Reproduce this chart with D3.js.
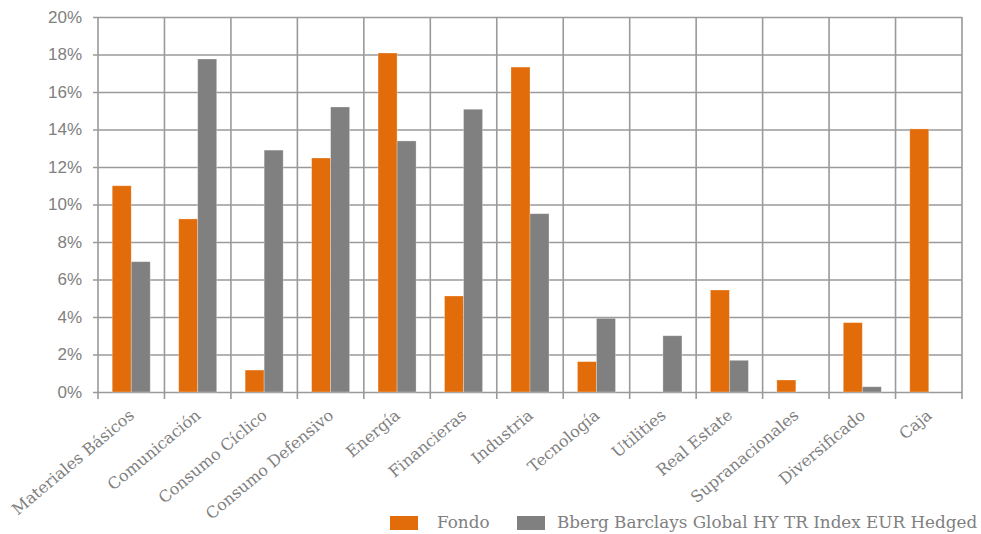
<!DOCTYPE html>
<html>
<head>
<meta charset="utf-8">
<script src="https://cdn.jsdelivr.net/npm/d3@7"></script>
<style>
  html, body { margin: 0; padding: 0; background: #fff; overflow: hidden; }
  svg { display: block; font-family: Georgia, "DejaVu Serif", serif; }
</style>
</head>
<body>
<svg id="chart" width="981" height="534"></svg>
<script>
// categories and series (percent)
const categories = ["Materiales Básicos", "Comunicación", "Consumo Cíclico", "Consumo Defensivo",
  "Energía", "Financieras", "Industria", "Tecnología", "Utilities", "Real Estate",
  "Supranacionales", "Diversificado", "Caja"];
const fondo = [11.0, 9.23, 1.17, 12.48, 18.08, 5.12, 17.33, 1.62, 0, 5.44, 0.64, 3.7, 14.03];
const indice = [6.95, 17.76, 12.9, 15.2, 13.39, 15.08, 9.51, 3.93, 3.0, 1.69, 0, 0.28, 0];
const seriesNames = ["Fondo", "Bberg Barclays Global HY TR Index EUR Hedged"];
const seriesColors = ["#E36C0A", "#808080"];
const yTicks = [0, 2, 4, 6, 8, 10, 12, 14, 16, 18, 20];

const svg = d3.select("#chart");
const margin = { left: 98, right: 19, top: 17, bottom: 142 };
const width = 981 - margin.left - margin.right;
const height = 534 - margin.top - margin.bottom;
const textColor = "#808080";
const gridColor = "#9a9a9a";

const g = svg.append("g").attr("transform", `translate(${margin.left},${margin.top})`);

const x0 = d3.scaleBand().domain(categories).range([0, width]).padding(0);
const groupW = x0.bandwidth() * 0.572;
const x1 = d3.scaleBand().domain([0, 1]).range([0, groupW]).padding(0);
const y = d3.scaleLinear().domain([0, 20]).range([height, 0]);

// horizontal gridlines + left axis
const yAxis = d3.axisLeft(y).tickValues(yTicks).tickSize(-width).tickSizeOuter(0)
  .tickPadding(16).tickFormat(d => d + "%");
const gy = g.append("g").call(yAxis);
gy.select(".domain").remove();
gy.selectAll(".tick line").attr("stroke", gridColor).attr("stroke-width", 1.6).attr("x1", -5);
gy.selectAll(".tick text").attr("fill", textColor).attr("font-size", 17);

// vertical gridlines at category boundaries
const bounds = categories.map(c => x0(c)).concat([width]);
g.append("g").selectAll("line").data(bounds).join("line")
  .attr("x1", d => d).attr("x2", d => d)
  .attr("y1", 0).attr("y2", height + 7)
  .attr("stroke", gridColor).attr("stroke-width", 1.6);

// bars
const rows = categories.map((c, i) => ({ cat: c, vals: [fondo[i], indice[i]] }));
const grp = g.append("g").selectAll("g").data(rows).join("g")
  .attr("transform", d => `translate(${x0(d.cat) + (x0.bandwidth() - groupW) / 2},0)`);
grp.selectAll("rect").data(d => d.vals.map((v, k) => ({ v, k })).filter(e => e.v > 0)).join("rect")
  .attr("x", d => x1(d.k))
  .attr("width", x1.bandwidth())
  .attr("y", d => y(d.v))
  .attr("height", d => y(0) - y(d.v))
  .attr("fill", d => seriesColors[d.k])
  .attr("stroke", "#ffffff").attr("stroke-opacity", 0.35).attr("stroke-width", 0.8);

// x labels, rotated
g.append("g").selectAll("text").data(categories).join("text")
  .attr("transform", d => `translate(${x0(d) + x0.bandwidth() / 2 + 4},${height + 25}) rotate(-40)`)
  .attr("text-anchor", "end")
  .attr("fill", textColor)
  .attr("font-size", 16)
  .text(d => d);

// legend
const legend = svg.append("g").attr("transform", "translate(390,516)");
const legendX = [0, 127];
const legendTextX = [47, 167];
seriesNames.forEach((name, k) => {
  legend.append("rect").attr("x", legendX[k]).attr("y", 0).attr("width", 28).attr("height", 14)
    .attr("fill", seriesColors[k]);
  legend.append("text").attr("x", legendTextX[k]).attr("y", 12)
    .attr("fill", textColor).attr("font-size", 16.8).text(name);
});
</script>
</body>
</html>
